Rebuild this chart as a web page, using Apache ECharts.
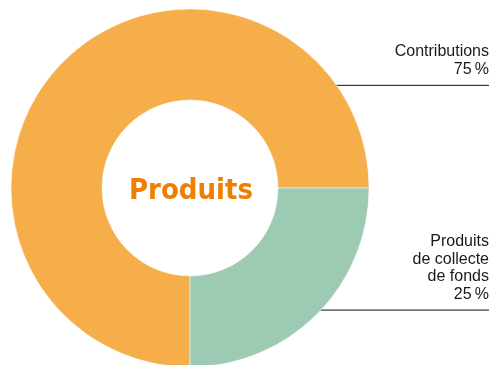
<!DOCTYPE html>
<html>
<head>
<meta charset="utf-8">
<script src="https://cdn.jsdelivr.net/npm/echarts@6/dist/echarts.min.js"></script>
<style>
  html, body { margin: 0; padding: 0; background: #fff; }
  #chart { width: 492px; height: 365px; }
</style>
</head>
<body>
<div id="chart"></div>
<script>
// data
const sliceNames = ['Contributions', 'Produits\nde collecte\nde fonds'];
const sliceValues = [75, 25];
const sliceColors = ['#F5AE49', '#9DCAB3'];
const centerTitle = 'Produits';

(function() {
    const chartDom = document.getElementById('chart');
    const myChart = echarts.init(chartDom, null, { renderer: 'canvas' });

    const cx = 190, cy = 188, rOuter = 179, rInner = 88;
    const rightEdge = 489;
    // where each label's leader line leaves the ring (degrees, counter-clockwise from 3 o'clock)
    const labelAngles = [35, -43];

    const option = {
        backgroundColor: '#ffffff',
        animation: false,
        title: {
            text: centerTitle,
            left: cx - 4,
            top: cy - 2,
            textAlign: 'center',
            textVerticalAlign: 'middle',
            textStyle: {
                color: '#EF7F00',
                fontSize: 29,
                fontWeight: 'bold',
                fontFamily: '"Liberation Sans Narrow", "DejaVu Sans Condensed", sans-serif'
            }
        },
        series: [
            {
                type: 'pie',
                center: [cx, cy],
                radius: [rInner, rOuter],
                startAngle: 270,
                clockwise: true,
                avoidLabelOverlap: false,
                data: sliceNames.map((n, i) => ({
                    name: n,
                    value: sliceValues[i],
                    itemStyle: { color: sliceColors[i] }
                })),
                itemStyle: { borderColor: '#ffffff', borderWidth: 0.5 },
                emphasis: { disabled: true },
                label: {
                    show: true,
                    position: 'outside',
                    formatter: p => p.name + '\n' + p.value + '\u202f%',
                    color: '#1a1a1a',
                    fontSize: 16,
                    lineHeight: 17.5,
                    fontFamily: '"Liberation Sans", Arial, sans-serif',
                    align: 'right'
                },
                labelLine: {
                    show: true,
                    lineStyle: { color: '#111111', width: 1 }
                },
                labelLayout: function(params) {
                    const a = labelAngles[params.dataIndex] * Math.PI / 180;
                    const x0 = cx + rOuter * Math.cos(a);
                    const y0 = cy - rOuter * Math.sin(a);
                    return {
                        x: rightEdge,
                        y: y0 - 7,
                        align: 'right',
                        verticalAlign: 'bottom',
                        labelLinePoints: [[x0 - 4, y0], [x0, y0], [rightEdge, y0]]
                    };
                }
            }
        ]
    };

    myChart.setOption(option);
    window.addEventListener('resize', () => myChart.resize());
})();
</script>
</body>
</html>
